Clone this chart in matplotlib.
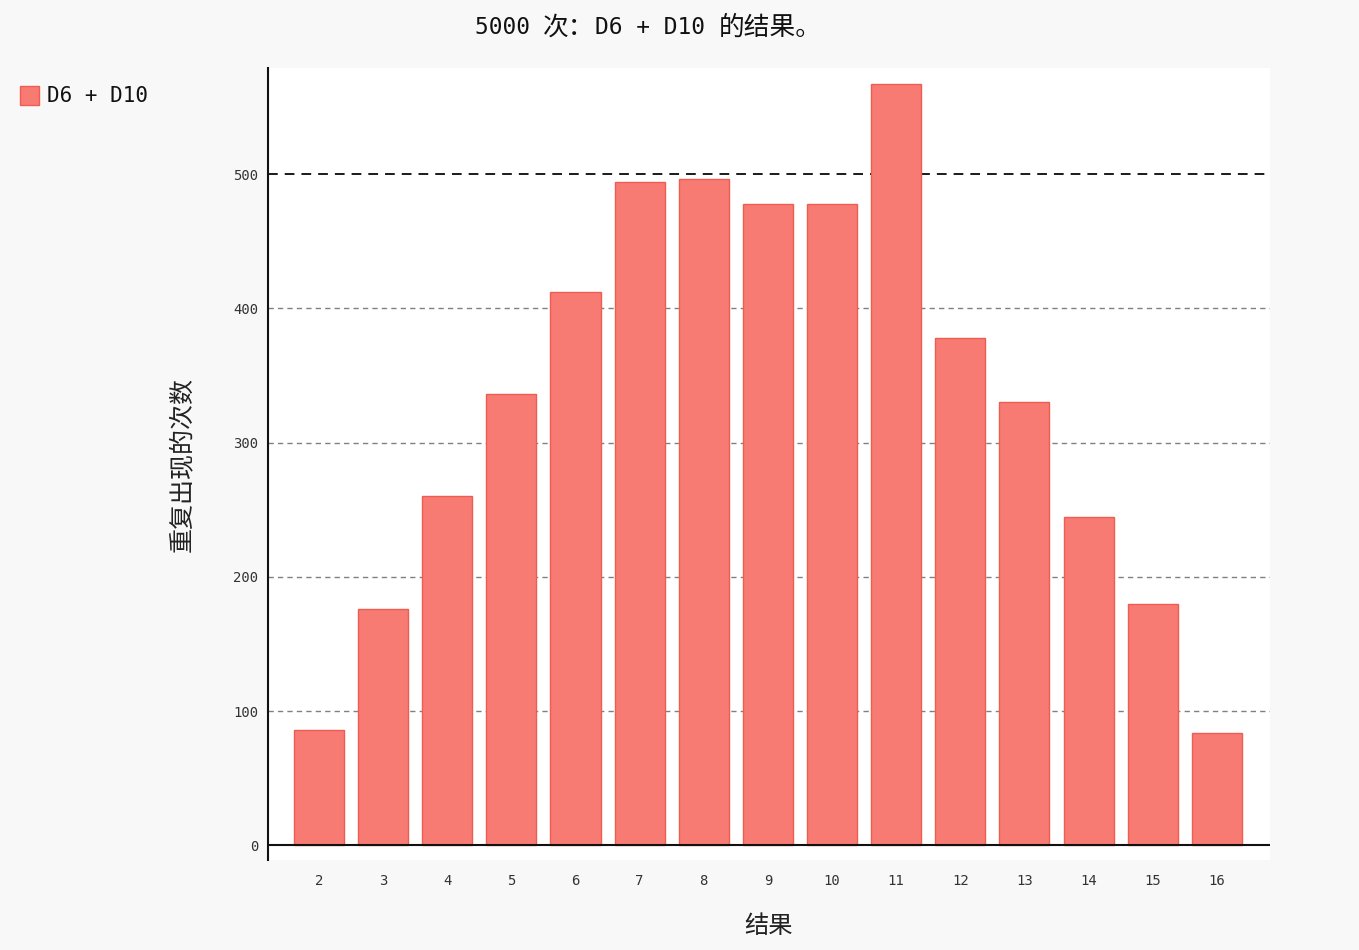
import matplotlib
matplotlib.use("Agg")
from matplotlib import pyplot as plt
import matplotlib.patches as patches

# data
results = [2, 3, 4, 5, 6, 7, 8, 9, 10, 11, 12, 13, 14, 15, 16]
frequencies = [86, 176, 260, 336, 412, 494, 496, 478, 478, 567, 378, 330, 245, 180, 84]
y_ticks = [0, 100, 200, 300, 400, 500]
title_parts = ["5000 ", "次：", "D6 + D10 ", "的结果。"]
series_name = "D6 + D10"
x_title = "结果"
y_title = "重复出现的次数"

mono = ["DejaVu Sans Mono", "Noto Sans CJK SC"]
cjk = ["Noto Sans CJK SC", "DejaVu Sans"]
bg = "#f8f8f8"
fill = "#f77b72"
edge = "#ee5c52"

W, H = 1359, 950
fig = plt.figure(figsize=(W / 100, H / 100), dpi=100)
fig.patch.set_facecolor(bg)

# plot area in pixel coordinates
left, right, top, bottom = 268, 1270, 68, 860
ax = fig.add_axes([left / W, (H - bottom) / H, (right - left) / W, (bottom - top) / H])
ax.set_facecolor("white")

ax.bar(results, frequencies, width=0.78, color=fill, edgecolor=edge, linewidth=1, zorder=3)

ax.set_xlim(1.205, 16.83)
ax.set_ylim(-10.8, 579)

ax.set_xticks(results)
ax.set_xticklabels([str(r) for r in results], family="DejaVu Sans Mono", fontsize=10, color="#333333")
ax.set_yticks(y_ticks)
ax.set_yticklabels([str(t) for t in y_ticks], family="DejaVu Sans Mono", fontsize=10, color="#333333")
ax.tick_params(axis="x", length=0, pad=10)
ax.tick_params(axis="y", length=0, pad=7)

# guides
for t in y_ticks[1:]:
    if t == 500:
        ax.axhline(t, color="#1a1a1a", linewidth=1.4, linestyle=(0, (5.0, 3.6)), zorder=2)
    else:
        ax.axhline(t, color="#808080", linewidth=1.0, linestyle=(0, (3.8, 3.0)), zorder=2)
ax.axhline(0, color="#111111", linewidth=1.5, zorder=4)

for s in ["top", "right", "bottom"]:
    ax.spines[s].set_visible(False)
ax.spines["left"].set_color("#111111")
ax.spines["left"].set_linewidth(1.5)

# title in pieces: latin text in mono, CJK a bit larger like the reference
renderer = fig.canvas.get_renderer()
styles = [(mono, 16.5), (cjk, 18.5), (mono, 16.5), (cjk, 18.5)]
pieces = []
for part, (fam, size) in zip(title_parts, styles):
    pieces.append(fig.text(0, 1 - 28 / H, part, family=fam, fontsize=size,
                           ha="left", va="center", color="#111111"))
widths = [p.get_window_extent(renderer).width for p in pieces]
x = 648 - sum(widths) / 2
for p, w in zip(pieces, widths):
    p.set_x(x / W)
    x += w

fig.text(769 / W, 1 - 926 / H, x_title, family=cjk, fontsize=17.5,
         ha="center", va="center", color="#222222")
fig.text(182 / W, 1 - 465 / H, y_title, family=cjk, fontsize=18, rotation=90,
         ha="center", va="center", color="#222222")

# legend
fig.patches.append(patches.Rectangle((20 / W, 1 - 105 / H), 19 / W, 19 / H,
                                     transform=fig.transFigure, facecolor=fill,
                                     edgecolor=edge, linewidth=1))
fig.text(47 / W, 1 - 96 / H, series_name, family="DejaVu Sans Mono", fontsize=15,
         ha="left", va="center", color="#111111")

fig.savefig("out.png", dpi=100, facecolor=bg)
